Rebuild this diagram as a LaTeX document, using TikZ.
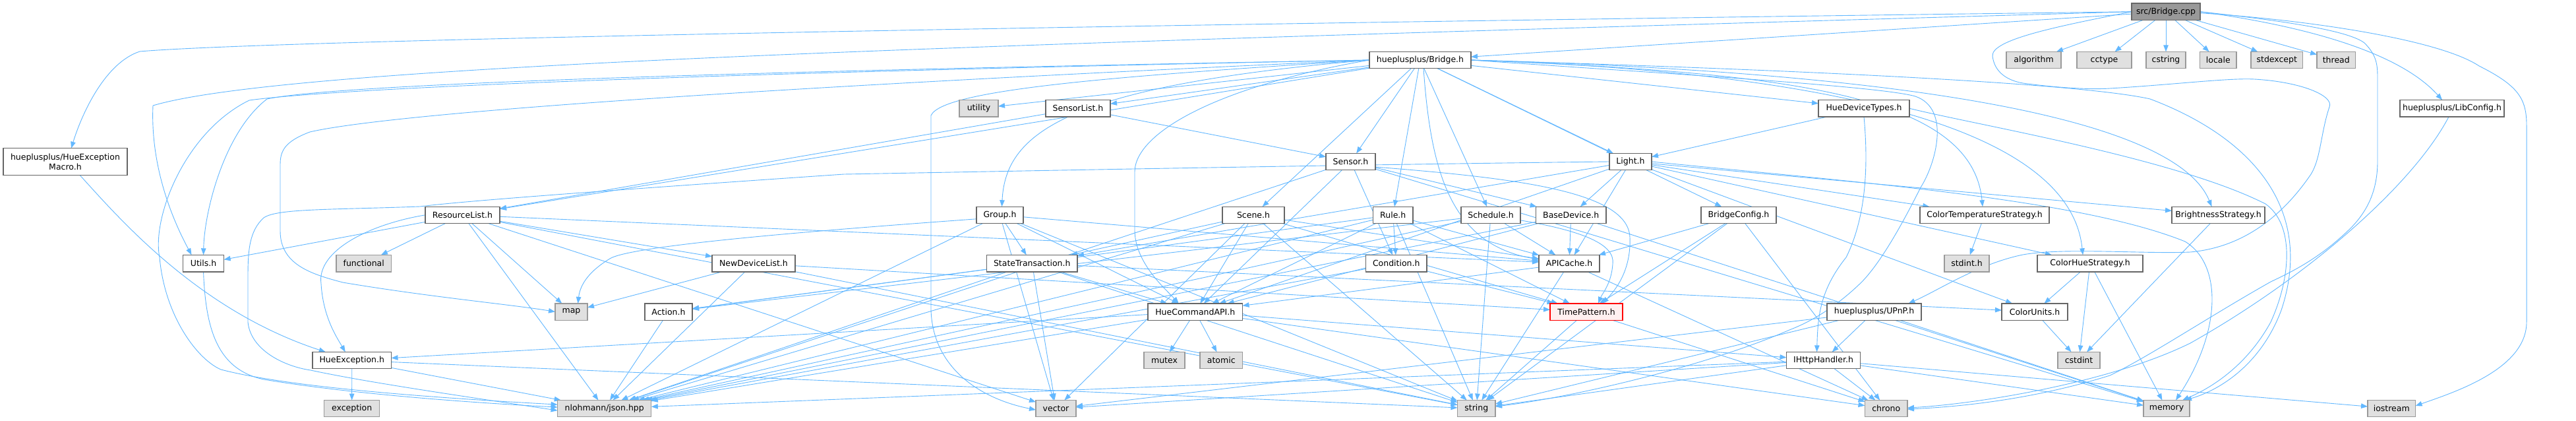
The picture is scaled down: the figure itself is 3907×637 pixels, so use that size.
\documentclass[tikz,border=0pt]{standalone}
\usepackage{fontspec}
\setmainfont{DejaVu Sans}
\usetikzlibrary{arrows.meta,calc}
\definecolor{edgec}{HTML}{63B8FF}
\definecolor{extfill}{HTML}{E0E0E0}
\definecolor{extdraw}{HTML}{999999}
\definecolor{hdraw}{HTML}{666666}
\definecolor{sysfill}{HTML}{999999}
\definecolor{tpfill}{HTML}{FFF0F0}
\pgfdeclarelayer{bg}\pgfsetlayers{bg,main}
\newcommand\bx[7]{%
 \pgfmathsetmacro\bw{#5-#3}\pgfmathsetmacro\bh{#6-#4}%
 \pgfmathsetmacro\cx{(#3+#5)/2}\pgfmathsetmacro\cy{(#4+#6)/2}%
 \node[#1,minimum width=\bw pt,minimum height=\bh pt] (#2) at (\cx,\cy) {#7};}
\begin{document}
\begin{tikzpicture}[x=1pt,y=-1pt,
 base/.style={rectangle,inner sep=0pt,outer sep=0pt,line width=1.2pt,font=\fontsize{12.5}{15}\selectfont,align=center,text=black},
 hb/.style={base,draw=hdraw,fill=white},
 ext/.style={base,draw=extdraw,fill=extfill},
 sys/.style={base,draw=hdraw,fill=sysfill},
 tp/.style={base,draw=red,fill=tpfill},
 e/.style={draw=edgec,line width=0.9pt,-{Triangle[length=10pt,width=7.5pt]}}]
\useasboundingbox (0,0) rectangle (3907,637);
% nodes
\bx{sys}{cpp}{3233}{5}{3337}{30.5}{src/Bridge.cpp}
\bx{hb}{bridgeh}{2077}{78.4}{2231}{103.6}{hueplusplus/Bridge.h}
\bx{ext}{algorithm}{3043}{78.4}{3126}{103.6}{algorithm}
\bx{ext}{cctype}{3150}{78.4}{3233}{103.6}{cctype}
\bx{ext}{cstring}{3255}{78.4}{3315}{103.6}{cstring}
\bx{ext}{locale}{3336.5}{78.4}{3392}{103.6}{locale}
\bx{ext}{stdexcept}{3414}{78.4}{3492.5}{103.6}{stdexcept}
\bx{ext}{thread}{3514}{78.4}{3572.5}{103.6}{thread}
\bx{ext}{utility}{1455}{151.5}{1514}{177}{utility}
\bx{hb}{sensorlist}{1586}{151.5}{1684}{177}{SensorList.h}
\bx{hb}{huedev}{2758}{151.5}{2896}{177}{HueDeviceTypes.h}
\bx{hb}{libconfig}{3640}{151.5}{3798}{177}{hueplusplus/LibConfig.h}
\bx{hb}{macro}{5}{224.7}{193}{265.3}{hueplusplus/HueException\\Macro.h}
\bx{hb}{sensor}{2011}{232.4}{2086}{257.6}{Sensor.h}
\bx{hb}{light}{2441}{232.4}{2505}{257.6}{Light.h}
\bx{hb}{resourcelist}{645}{313.2}{758}{338.4}{ResourceList.h}
\bx{hb}{group}{1481}{313.2}{1552}{338.4}{Group.h}
\bx{hb}{scene}{1854}{313.2}{1948}{338.4}{Scene.h}
\bx{hb}{rule}{2082.5}{313.2}{2143}{338.4}{Rule.h}
\bx{hb}{schedule}{2216}{313.2}{2306}{338.4}{Schedule.h}
\bx{hb}{basedevice}{2329.5}{313.2}{2436}{338.4}{BaseDevice.h}
\bx{hb}{bridgeconfig}{2580}{313.2}{2694}{338.4}{BridgeConfig.h}
\bx{hb}{colortemp}{2912}{313.2}{3108}{338.4}{ColorTemperatureStrategy.h}
\bx{hb}{brightness}{3294}{313.2}{3435}{338.4}{BrightnessStrategy.h}
\bx{hb}{utils}{277.5}{386.3}{339.6}{412}{Utils.h}
\bx{ext}{functional}{510}{386.3}{593.5}{412}{functional}
\bx{hb}{newdevicelist}{1080}{386.3}{1206}{412}{NewDeviceList.h}
\bx{hb}{statetrans}{1496.5}{386.3}{1634}{412}{StateTransaction.h}
\bx{hb}{condition}{2071.5}{386.3}{2164}{412}{Condition.h}
\bx{hb}{apicache}{2334}{386.3}{2426}{412}{APICache.h}
\bx{ext}{stdint}{2949}{386.3}{3017}{412}{stdint.h}
\bx{hb}{colorhue}{3090}{386.3}{3250}{412}{ColorHueStrategy.h}
\bx{ext}{map}{842}{459.9}{891}{485.1}{map}
\bx{hb}{action}{978}{459.9}{1050}{485.1}{Action.h}
\bx{hb}{hcapi}{1741}{459.9}{1884.5}{485.1}{HueCommandAPI.h}
\bx{tp}{timepattern}{2351}{459.9}{2461}{485.1}{TimePattern.h}
\bx{hb}{upnp}{2771}{459.9}{2914}{485.1}{hueplusplus/UPnP.h}
\bx{hb}{colorunits}{3036}{459.9}{3136}{485.1}{ColorUnits.h}
\bx{hb}{hueexception}{474}{533.4}{593.5}{558.6}{HueException.h}
\bx{ext}{mutex}{1735}{533.4}{1797}{558.6}{mutex}
\bx{ext}{atomic}{1820}{533.4}{1884.5}{558.6}{atomic}
\bx{hb}{ihttp}{2709.5}{533.4}{2821.6}{558.6}{IHttpHandler.h}
\bx{ext}{cstdint}{3121}{533.4}{3185}{558.6}{cstdint}
\bx{ext}{exception}{491.6}{606.5}{575.7}{631.7}{exception}
\bx{ext}{json}{845.6}{606.5}{987.8}{631.7}{nlohmann/json.hpp}
\bx{ext}{vector}{1571}{606.5}{1632}{631.7}{vector}
\bx{ext}{string}{2210.5}{606.5}{2268}{631.7}{string}
\bx{ext}{chrono}{2828.5}{606.5}{2893}{631.7}{chrono}
\bx{ext}{memory}{3251}{606.5}{3321}{631.7}{memory}
\bx{ext}{iostream}{3591}{606.5}{3663.5}{631.7}{iostream}
% edges
\begin{pgfonlayer}{bg}
\fill[white] (0,0) rectangle (3907,637);
\foreach \a/\b in {cpp/bridgeh, cpp/algorithm, cpp/cctype, cpp/cstring, cpp/locale, cpp/stdexcept, cpp/thread,
 bridgeh/sensorlist, bridgeh/utility, bridgeh/resourcelist, bridgeh/sensor, bridgeh/rule, bridgeh/schedule, bridgeh/scene, bridgeh/light, bridgeh/huedev, bridgeh/bridgeconfig,
 sensorlist/resourcelist, sensorlist/sensor, huedev/light,
 light/basedevice, light/apicache, light/hcapi, light/statetrans, light/colortemp, light/colorhue, light/brightness, light/colorunits,
 sensor/basedevice, sensor/hcapi, sensor/condition, sensor/memory, sensor/json,
 rule/apicache, rule/action, rule/condition, rule/hcapi, rule/timepattern, rule/string, rule/json,
 schedule/apicache, schedule/action, schedule/json, schedule/string,
 scene/apicache, scene/hcapi, scene/statetrans, scene/timepattern, scene/string, scene/vector, scene/json,
 group/apicache, group/hcapi, group/statetrans, group/string, group/vector, group/json,
 basedevice/apicache, basedevice/hcapi, basedevice/json, basedevice/memory,
 bridgeconfig/apicache, bridgeconfig/timepattern, bridgeconfig/string, bridgeconfig/chrono,
 resourcelist/apicache, resourcelist/functional, resourcelist/map, resourcelist/newdevicelist, resourcelist/utils, resourcelist/string, resourcelist/vector, resourcelist/json,
 newdevicelist/map, newdevicelist/string, newdevicelist/json, newdevicelist/timepattern,
 statetrans/action, statetrans/hcapi, statetrans/colorunits, statetrans/string, statetrans/json, statetrans/vector,
 condition/timepattern, condition/json, action/json,
 apicache/hcapi, apicache/string, apicache/chrono,
 hcapi/atomic, hcapi/mutex, hcapi/chrono, hcapi/hueexception, hcapi/ihttp, hcapi/json,
 hueexception/exception, hueexception/string, hueexception/json,
 ihttp/chrono, ihttp/iostream, ihttp/memory, ihttp/string, ihttp/vector, ihttp/json,
 upnp/ihttp, upnp/memory, upnp/string, upnp/vector,
 timepattern/chrono, timepattern/string,
 colortemp/stdint, colorhue/colorunits, colorhue/cstdint, colorhue/memory, colorunits/cstdint, brightness/cstdint}
 {\draw[e] (\a) -- (\b);}
% curved routes
\draw[e] ([xshift=22pt]macro.south) .. controls (180,330) and (300,470) .. ([xshift=-40pt]hueexception.north);
\draw[e] ([yshift=-6pt]group.west) .. controls (1300,345) and (960,370) .. (925,392) .. controls (895,410) and (880,430) .. ([xshift=10pt]map.north);
\draw[e] (cpp.west) .. controls (1500,40) and (400,62) .. (212,78) .. controls (160,95) and (125,170) .. ([xshift=9pt]macro.north);
\draw[e] (cpp.west) .. controls (1600,65) and (450,95) .. (232,160) .. controls (228,250) and (260,330) .. ([xshift=-18pt]utils.north);
\draw[e] (bridgeh.west) .. controls (1000,110) and (500,130) .. (405,150) .. controls (340,200) and (310,320) .. (utils.north);
\draw[e] (bridgeh.west) .. controls (1000,112) and (500,135) .. (378,152) .. controls (280,200) and (230,330) .. (242,390) .. controls (250,480) and (300,545) .. (335,560) .. controls (450,590) and (700,605) .. ([yshift=6pt]json.west);
\draw[e] (bridgeh.west) .. controls (1200,130) and (600,170) .. (470,200) .. controls (430,215) and (425,230) .. (425,250) -- (425,350) .. controls (425,400) and (470,415) .. (520,428) .. controls (650,450) and (780,462) .. (map.west);
\draw[e] (light.west) .. controls (2000,250) and (1400,262) .. (1280,264) .. controls (900,290) and (700,305) .. (637,313) .. controls (500,318) and (420,316) .. (400,330) .. controls (378,350) and (376,380) .. (376,420) -- (376,488) .. controls (380,530) and (430,555) .. (471,561) .. controls (560,580) and (700,600) .. ([yshift=-3pt]json.west);
\draw[e] (bridgeh.west) .. controls (1700,115) and (1430,135) .. (1412,175) -- (1412,470) .. controls (1415,560) and (1490,605) .. ([yshift=-2pt]vector.west);
\draw[e] (bridgeh.west) .. controls (1620,130) and (1525,200) .. ([xshift=3pt]group.north);
\draw[e] (bridgeh.west) .. controls (1850,130) and (1722,200) .. (1721,260) -- (1721,350) .. controls (1722,400) and (1770,440) .. ([xshift=-25pt]hcapi.north);
\draw[e] ([xshift=5pt]bridgeh.south) .. controls (2170,260) and (2200,370) .. ([yshift=6pt]apicache.west);
\draw[e] (bridgeh.east) .. controls (2500,110) and (2850,130) .. (2905,146) .. controls (2960,165) and (2935,250) .. (2913,284) .. controls (2880,350) and (2850,400) .. (2824,427) .. controls (2780,470) and (2740,490) .. (2714,500) .. controls (2600,550) and (2400,600) .. ([yshift=3pt]string.east);
\draw[e] (huedev.south) .. controls (2834,252) and (2830,330) .. (2800,390) .. controls (2760,440) and (2757,480) .. ([xshift=-10pt]ihttp.north);
\draw[e] (bridgeh.east) .. controls (2700,110) and (2990,140) .. ([xshift=-3pt]colortemp.north);
\draw[e] (bridgeh.east) .. controls (2800,110) and (3140,200) .. ([xshift=-11pt]colorhue.north);
\draw[e] (bridgeh.east) .. controls (2900,110) and (3300,180) .. ([xshift=-10pt]brightness.north);
\draw[e] (bridgeh.east) .. controls (2700,105) and (3150,125) .. (3261,150) .. controls (3420,210) and (3510,320) .. (3460,470) .. controls (3430,550) and (3370,590) .. ([xshift=28pt]memory.north);
\draw[e] (huedev.east) .. controls (3000,190) and (3300,240) .. (3436,309) .. controls (3480,340) and (3475,420) .. (3444,488) .. controls (3410,550) and (3360,585) .. ([xshift=24pt]memory.north);
\draw[e] (light.east) .. controls (2800,275) and (3150,300) .. (3314,366) .. controls (3370,400) and (3370,500) .. ([xshift=14pt]memory.north);
\draw[e] ([yshift=-8pt]sensor.east) .. controls (2300,270) and (2470,290) .. (2472,360) .. controls (2474,410) and (2450,440) .. ([xshift=24pt]timepattern.north);
\draw[e] ([yshift=-8pt]schedule.east) .. controls (2400,350) and (2450,370) .. (2446,400) .. controls (2444,430) and (2430,445) .. ([xshift=18pt]timepattern.north);
\draw[e] (resourcelist.west) .. controls (560,340) and (480,380) .. (487,430) .. controls (490,480) and (510,510) .. ([xshift=-10pt]hueexception.north);
\draw[e] (utils.south) .. controls (312,500) and (330,560) .. (400,575) .. controls (550,600) and (750,612) .. ([yshift=2pt]json.west);
\draw[e] (cpp.east) .. controls (3450,30) and (3560,45) .. (3586,65) .. controls (3606,85) and (3606,100) .. (3606,122) -- (3606,244) .. controls (3606,290) and (3590,320) .. (3566,345) .. controls (3520,390) and (3480,410) .. (3444,427) .. controls (3350,480) and (3260,540) .. (3200,569) .. controls (3100,600) and (3000,615) .. ([yshift=-1pt]chrono.east);
\draw[e] (cpp.west) .. controls (3120,40) and (3020,60) .. (3022,85) .. controls (3025,110) and (3045,122) .. (3068,126) .. controls (3120,133) and (3170,136) .. (3200,134) .. controls (3300,128) and (3380,118) .. (3419,120) .. controls (3490,124) and (3540,145) .. (3533,162) .. controls (3520,200) and (3520,240) .. (3505,264) .. controls (3460,330) and (3400,375) .. (3322,382) .. controls (3250,385) and (3130,375) .. (3068,386) .. controls (3000,400) and (2940,440) .. ([xshift=52pt]upnp.north);
\draw[e] ([yshift=-2pt]cpp.east) .. controls (3500,30) and (3700,60) .. (3760,100) .. controls (3820,130) and (3832,150) .. (3832,190) -- (3832,488) .. controls (3832,560) and (3720,595) .. ([yshift=4pt]iostream.east);
\draw[e] (cpp.east) .. controls (3500,40) and (3640,80) .. ([xshift=-15pt]libconfig.north);
\draw[e] ([xshift=-5pt]libconfig.south) .. controls (3660,280) and (3500,420) .. (3322,520) .. controls (3200,580) and (3000,612) .. ([yshift=1pt]chrono.east);
\end{pgfonlayer}
\end{tikzpicture}
\end{document}
